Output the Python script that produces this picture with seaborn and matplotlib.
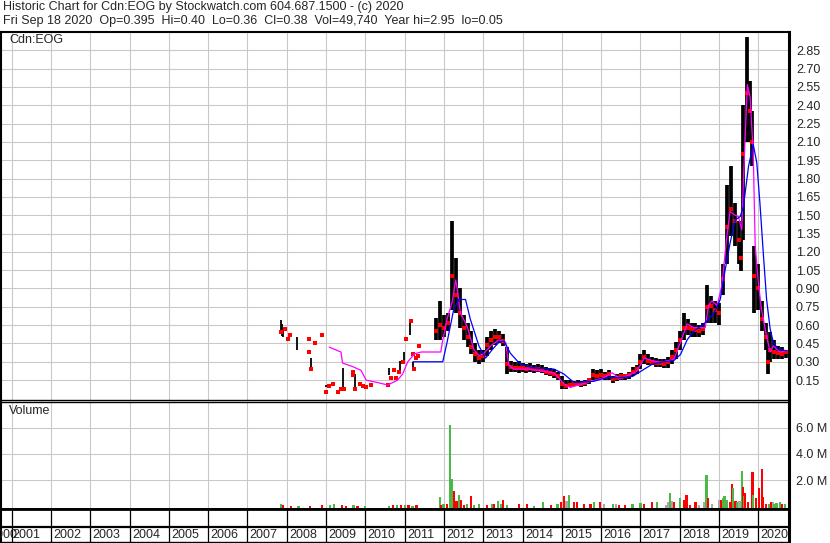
import matplotlib
matplotlib.use("Agg")
import matplotlib.pyplot as plt
import seaborn as sns
import numpy as np

# daily bars (condensed), decimal years / price in $
bar_year = [2011.8, 2011.9, 2012.0, 2012.1, 2012.2, 2012.3, 2012.4, 2012.5, 2012.6, 2012.7,
            2012.8, 2012.9, 2013.0, 2013.1, 2013.2, 2013.3, 2013.4, 2013.5, 2013.6, 2013.7,
            2013.8, 2013.9, 2014.0, 2014.1, 2014.2, 2014.3, 2014.4, 2014.5, 2014.6, 2014.7,
            2014.8, 2014.9, 2015.0, 2015.1, 2015.2, 2015.3, 2015.4, 2015.5, 2015.6, 2015.7,
            2015.8, 2015.9, 2016.0, 2016.1, 2016.2, 2016.3, 2016.4, 2016.5, 2016.6, 2016.7,
            2016.8, 2016.9, 2017.0, 2017.1, 2017.2, 2017.3, 2017.4, 2017.5, 2017.6, 2017.7,
            2017.8, 2017.9, 2018.0, 2018.1, 2018.2, 2018.3, 2018.4, 2018.5, 2018.6, 2018.7,
            2018.8, 2018.9, 2019.0, 2019.1, 2019.2, 2019.3, 2019.4, 2019.5, 2019.55, 2019.6,
            2019.7, 2019.8, 2019.85, 2019.9, 2020.0, 2020.1, 2020.2, 2020.25, 2020.3, 2020.4,
            2020.5, 2020.6, 2020.7]
bar_hi = [0.66, 0.80, 0.68, 0.70, 1.45, 1.15, 0.90, 0.68, 0.62, 0.55,
          0.45, 0.40, 0.40, 0.50, 0.55, 0.57, 0.55, 0.53, 0.42, 0.31,
          0.30, 0.31, 0.29, 0.28, 0.29, 0.27, 0.28, 0.27, 0.26, 0.25,
          0.24, 0.22, 0.18, 0.15, 0.15, 0.14, 0.15, 0.14, 0.15, 0.17,
          0.24, 0.23, 0.24, 0.22, 0.23, 0.18, 0.20, 0.21, 0.20, 0.22,
          0.26, 0.27, 0.36, 0.40, 0.36, 0.34, 0.33, 0.32, 0.32, 0.34,
          0.40, 0.46, 0.55, 0.70, 0.65, 0.62, 0.62, 0.60, 0.62, 0.93,
          0.84, 0.80, 0.78, 1.10, 1.75, 1.90, 1.60, 1.45, 1.30, 2.40,
          2.96, 2.60, 2.35, 1.25, 1.10, 0.80, 0.62, 0.45, 0.54, 0.48,
          0.43, 0.42, 0.40]
bar_lo = [0.48, 0.48, 0.50, 0.55, 0.72, 0.70, 0.58, 0.48, 0.42, 0.36,
          0.30, 0.28, 0.30, 0.35, 0.40, 0.44, 0.45, 0.43, 0.20, 0.22,
          0.22, 0.21, 0.22, 0.21, 0.22, 0.21, 0.22, 0.21, 0.19, 0.18,
          0.17, 0.15, 0.08, 0.08, 0.09, 0.10, 0.10, 0.09, 0.10, 0.12,
          0.15, 0.15, 0.16, 0.15, 0.15, 0.13, 0.14, 0.15, 0.15, 0.16,
          0.18, 0.20, 0.24, 0.28, 0.27, 0.27, 0.26, 0.26, 0.25, 0.25,
          0.28, 0.32, 0.40, 0.48, 0.52, 0.50, 0.50, 0.50, 0.52, 0.62,
          0.62, 0.62, 0.60, 0.85, 1.10, 1.33, 1.25, 1.10, 1.04, 1.30,
          2.10, 2.10, 1.90, 0.70, 0.72, 0.55, 0.40, 0.20, 0.30, 0.32,
          0.32, 0.32, 0.33]
bar_close = [0.55, 0.60, 0.58, 0.62, 1.00, 0.85, 0.70, 0.58, 0.50, 0.42,
             0.36, 0.33, 0.35, 0.44, 0.48, 0.50, 0.50, 0.47, 0.28, 0.26,
             0.25, 0.25, 0.25, 0.24, 0.25, 0.24, 0.24, 0.23, 0.22, 0.21,
             0.20, 0.18, 0.12, 0.10, 0.11, 0.12, 0.12, 0.12, 0.13, 0.15,
             0.19, 0.18, 0.19, 0.18, 0.20, 0.16, 0.17, 0.18, 0.18, 0.19,
             0.22, 0.24, 0.30, 0.34, 0.31, 0.30, 0.29, 0.29, 0.28, 0.30,
             0.34, 0.40, 0.48, 0.58, 0.58, 0.57, 0.56, 0.55, 0.57, 0.75,
             0.76, 0.72, 0.70, 0.98, 1.40, 1.55, 1.45, 1.30, 1.15, 2.00,
             2.50, 2.35, 2.10, 1.00, 0.90, 0.65, 0.50, 0.30, 0.40, 0.38,
             0.37, 0.36, 0.38]

# thinly traded years 2007-2011
early_year = [2007.85, 2007.88, 2007.91, 2008.27, 2008.61, 2009.01, 2009.44, 2009.74,
              2010.59, 2010.89, 2010.98, 2011.14, 2011.21]
early_hi = [0.64, 0.61, 0.57, 0.50, 0.33, 0.11, 0.25, 0.20, 0.25, 0.31, 0.38, 0.63, 0.30]
early_lo = [0.55, 0.51, 0.50, 0.40, 0.24, 0.09, 0.075, 0.08, 0.19, 0.23, 0.31, 0.52, 0.24]
dot_year = [2007.86, 2007.95, 2008.03, 2008.08, 2008.56, 2008.56, 2008.61, 2008.71, 2008.91,
            2008.99, 2009.07, 2009.17, 2009.30, 2009.38, 2009.46, 2009.68, 2009.69, 2009.74,
            2009.86, 2009.93, 2010.02, 2010.14, 2010.57, 2010.65, 2010.74, 2010.78, 2010.86,
            2010.95, 2011.04, 2011.16, 2011.21, 2011.23, 2011.28, 2011.33, 2011.37]
dot_price = [0.54, 0.57, 0.49, 0.52, 0.49, 0.38, 0.24, 0.45, 0.52,
             0.05, 0.10, 0.12, 0.05, 0.08, 0.075, 0.22, 0.19, 0.08,
             0.12, 0.105, 0.09, 0.11, 0.11, 0.17, 0.235, 0.17, 0.22,
             0.30, 0.49, 0.63, 0.36, 0.24, 0.33, 0.35, 0.43]

# moving averages (magenta = short, blue = long)
ma_s_year = [2009.08, 2009.38, 2009.42, 2009.68, 2009.89, 2010.02, 2010.31, 2010.57, 2010.82,
             2010.95, 2011.08, 2011.25, 2011.42, 2011.92, 2011.96, 2012.08, 2012.21, 2012.30,
             2012.34, 2012.42, 2012.59, 2012.76, 2012.89, 2013.02, 2013.19, 2013.40, 2013.57,
             2013.65, 2013.78, 2014.12, 2014.80, 2015.05, 2015.22, 2015.64, 2016.07, 2016.28,
             2016.49, 2016.70, 2016.90, 2017.10, 2017.30, 2017.51, 2017.85, 2018.02, 2018.19,
             2018.35, 2018.65, 2018.73, 2018.82, 2018.95, 2019.07, 2019.20, 2019.28, 2019.41,
             2019.49, 2019.58, 2019.62, 2019.72, 2019.79, 2019.87, 2019.92, 2020.00, 2020.08,
             2020.21, 2020.30, 2020.38, 2020.55, 2020.72]
ma_s = [0.42, 0.38, 0.29, 0.26, 0.23, 0.15, 0.13, 0.11, 0.15,
        0.20, 0.30, 0.365, 0.38, 0.38, 0.46, 0.65, 0.79, 0.97,
        0.89, 0.70, 0.59, 0.40, 0.35, 0.37, 0.43, 0.48, 0.46,
        0.27, 0.24, 0.24, 0.21, 0.12, 0.09, 0.13, 0.17, 0.21,
        0.16, 0.19, 0.22, 0.33, 0.31, 0.295, 0.32, 0.46, 0.61,
        0.58, 0.58, 0.76, 0.80, 0.76, 0.92, 1.33, 1.53, 1.50,
        1.49, 1.38, 1.79, 2.57, 2.47, 2.01, 1.25, 0.95, 0.73,
        0.51, 0.38, 0.43, 0.38, 0.39]
ma_l_year = [2011.21, 2011.97, 2012.08, 2012.25, 2012.38, 2012.55, 2012.67, 2012.89, 2013.06,
             2013.23, 2013.40, 2013.53, 2013.69, 2013.94, 2014.29, 2014.80, 2015.05, 2015.31,
             2015.81, 2016.15, 2016.49, 2016.80, 2017.10, 2017.30, 2017.51, 2017.85, 2018.02,
             2018.19, 2018.35, 2018.61, 2018.86, 2019.03, 2019.16, 2019.28, 2019.41, 2019.54,
             2019.62, 2019.75, 2019.87, 2019.96, 2020.04, 2020.13, 2020.21, 2020.30, 2020.38,
             2020.51, 2020.72]
ma_l = [0.30, 0.30, 0.46, 0.73, 0.81, 0.81, 0.65, 0.43, 0.33,
        0.40, 0.46, 0.47, 0.37, 0.28, 0.25, 0.24, 0.20, 0.13,
        0.14, 0.17, 0.17, 0.18, 0.24, 0.28, 0.295, 0.31, 0.36,
        0.48, 0.55, 0.61, 0.69, 0.81, 1.06, 1.27, 1.46, 1.49,
        1.57, 1.90, 2.08, 1.93, 1.60, 1.17, 0.81, 0.57, 0.46,
        0.40, 0.39]

# volume in millions, g = up, r = down, k = unchanged
vol_year = [2007.85, 2007.90, 2008.10, 2008.30, 2008.60, 2008.90, 2009.10, 2009.20, 2009.40,
            2009.50, 2009.70, 2009.80, 2010.00, 2010.60, 2010.70, 2010.80, 2010.90, 2011.00,
            2011.10, 2011.20, 2011.30, 2011.89, 2011.93, 2011.99, 2012.07, 2012.15, 2012.20,
            2012.25, 2012.32, 2012.38, 2012.43, 2012.50, 2012.58, 2012.68, 2012.76, 2012.89,
            2013.10, 2013.23, 2013.28, 2013.37, 2013.45, 2013.51, 2013.60, 2013.90, 2014.12,
            2014.30, 2014.53, 2014.72, 2014.89, 2014.97, 2015.06, 2015.12, 2015.18, 2015.30,
            2015.39, 2015.56, 2015.73, 2015.81, 2015.98, 2016.07, 2016.30, 2016.37, 2016.46,
            2016.60, 2016.80, 2017.00, 2017.08, 2017.30, 2017.43, 2017.64, 2017.70, 2017.75,
            2017.81, 2017.85, 2018.01, 2018.10, 2018.17, 2018.27, 2018.40, 2018.50, 2018.63,
            2018.68, 2018.72, 2018.83, 2018.99, 2019.06, 2019.10, 2019.14, 2019.20, 2019.27,
            2019.33, 2019.36, 2019.42, 2019.46, 2019.52, 2019.59, 2019.61, 2019.64, 2019.67,
            2019.74, 2019.85, 2019.87, 2019.93, 2020.02, 2020.09, 2020.12, 2020.19, 2020.28,
            2020.33, 2020.37, 2020.41, 2020.46, 2020.55, 2020.60, 2020.68]
vol_m = [0.15, 0.08, 0.05, 0.06, 0.05, 0.08, 0.10, 0.18, 0.08,
         0.06, 0.10, 0.06, 0.05, 0.05, 0.10, 0.08, 0.10, 0.08,
         0.10, 0.06, 0.07, 0.70, 0.10, 0.15, 0.20, 6.18, 2.10,
         1.20, 0.40, 0.85, 0.50, 0.10, 0.20, 0.80, 0.10, 0.15,
         0.10, 0.15, 0.20, 0.40, 0.20, 0.50, 0.10, 0.15, 0.20,
         0.05, 0.30, 0.10, 0.15, 0.30, 0.80, 0.40, 0.90, 0.30,
         0.30, 0.20, 0.20, 0.30, 0.30, 0.20, 0.15, 0.20, 0.10,
         0.10, 0.20, 0.25, 0.20, 0.30, 0.30, 0.10, 0.30, 1.05,
         0.40, 0.30, 0.60, 0.50, 0.87, 0.10, 0.30, 0.10, 0.30,
         2.40, 0.60, 0.15, 0.50, 0.50, 0.60, 0.80, 0.50, 0.30,
         1.70, 1.40, 0.40, 0.30, 0.40, 2.70, 1.50, 0.80, 1.00,
         0.30, 2.60, 0.90, 0.60, 1.40, 2.85, 0.70, 0.20, 0.20,
         0.35, 0.30, 0.20, 0.25, 0.30, 0.20, 0.20]
vol_col = ["g", "r", "r", "g", "r", "r", "g", "g", "r",
           "r", "g", "r", "g", "g", "r", "g", "r", "g",
           "r", "g", "r", "g", "r", "g", "r", "g", "g",
           "r", "r", "g", "r", "r", "g", "r", "g", "g",
           "r", "g", "r", "g", "g", "r", "g", "r", "r",
           "g", "g", "r", "g", "r", "r", "k", "g", "r",
           "r", "r", "r", "g", "r", "k", "g", "k", "r",
           "r", "g", "g", "r", "r", "g", "k", "k", "g",
           "k", "r", "g", "r", "r", "r", "r", "k", "k",
           "g", "r", "k", "k", "r", "g", "g", "g", "r",
           "r", "g", "r", "g", "k", "g", "r", "g", "r",
           "r", "r", "g", "r", "r", "r", "r", "r", "g",
           "r", "k", "g", "g", "g", "r", "g"]

price_ticks = [0.15, 0.30, 0.45, 0.60, 0.75, 0.90, 1.05, 1.20, 1.35, 1.50,
               1.65, 1.80, 1.95, 2.10, 2.25, 2.40, 2.55, 2.70, 2.85]
vol_ticks = [2, 4, 6]
vol_labels = ["2.0 M", "4.0 M", "6.0 M"]
year_labels = list(range(2000, 2021))

title1 = "Historic Chart for Cdn:EOG by Stockwatch.com 604.687.1500 - (c) 2020"
title2 = "Fri Sep 18 2020  Op=0.395  Hi=0.40  Lo=0.36  Cl=0.38  Vol=49,740  Year hi=2.95  lo=0.05"

sns.set_style("white")
plt.rcParams["font.family"] = ["Liberation Sans", "DejaVu Sans"]

W, H = 830, 543
fig = plt.figure(figsize=(W / 100, H / 100), dpi=100)
fig.patch.set_facecolor("white")


def box(x0, y0, x1, y1):
    return [x0 / W, 1 - y1 / H, (x1 - x0) / W, (y1 - y0) / H]


XL = (2000.73, 2020.78)
grid_kw = dict(color="#c8c8c8", lw=0.75, zorder=0)
bounds = year_labels[1:]
fs = 9.0

# price panel
ax = fig.add_axes(box(1, 32, 789, 400))
ax.set_xlim(*XL)
ax.set_ylim(-0.013, 3.0)
for b in bounds:
    ax.axvline(b, **grid_kw)
for t in price_ticks:
    ax.axhline(t, **grid_kw)
ax.vlines(early_year, early_lo, early_hi, colors="black", lw=1.3, zorder=2)
ax.vlines(bar_year, bar_lo, bar_hi, colors="black", lw=2.7, zorder=2)
sns.scatterplot(x=bar_year, y=bar_close, ax=ax, marker="s",
                s=6, color="red", linewidth=0, zorder=3)
sns.scatterplot(x=dot_year, y=dot_price, ax=ax, marker="s",
                s=9, color="red", linewidth=0, zorder=3)
sns.lineplot(x=ma_s_year, y=ma_s, ax=ax, color="#ff00ff", lw=0.9, estimator=None,
             sort=False, zorder=4)
sns.lineplot(x=ma_l_year, y=ma_l, ax=ax, color="#0000ff", lw=0.9, estimator=None,
             sort=False, zorder=4)
ax.set_yticks(price_ticks)
ax.set_yticklabels([f"{t:.2f}" for t in price_ticks])
ax.yaxis.tick_right()
ax.tick_params(axis="y", length=0, pad=5, labelsize=fs)
ax.set_xticks([])
ax.set_xlabel("")
ax.set_ylabel("")
for s in ax.spines.values():
    s.set_color("black")
    s.set_linewidth(1.0)
ax.spines["top"].set_linewidth(1.5)
ax.spines["left"].set_linewidth(1.5)
ax.spines["right"].set_linewidth(2.2)

# volume panel
axv = fig.add_axes(box(1, 402, 789, 509))
axv.set_xlim(*XL)
axv.set_ylim(-0.2, 7.95)
for b in bounds:
    axv.axvline(b, **grid_kw)
for t in vol_ticks:
    axv.axhline(t, **grid_kw)
cmap = {"g": "#4cb848", "r": "#ff0000", "k": "#a8a8a8"}
axv.bar(vol_year, np.array(vol_m) + 0.2, bottom=-0.2, width=0.055,
        color=[cmap[c] for c in vol_col], zorder=2, linewidth=0)
axv.set_yticks(vol_ticks)
axv.set_yticklabels(vol_labels)
axv.yaxis.tick_right()
axv.tick_params(axis="y", length=0, pad=5, labelsize=fs)
axv.set_xticks([])
for s in axv.spines.values():
    s.set_color("black")
    s.set_linewidth(1.0)
axv.spines["left"].set_linewidth(1.5)
axv.spines["right"].set_linewidth(2.2)
axv.spines["bottom"].set_linewidth(2.0)

# date strip
axs = fig.add_axes(box(1, 509, 789, 542))
axs.set_xlim(*XL)
axs.set_ylim(0, 1)
axs.set_xticks([])
axs.set_yticks([])
axs.axhline(15 / 33, color="black", lw=1.6)
for b in bounds:
    axs.axvline(b, color="black", lw=0.9)
for y in year_labels:
    if y == 2000:
        axs.text(2001.14, 0.22, str(y), ha="right", va="center", fontsize=fs, clip_on=False)
    else:
        axs.text(y + (0.02 if y == 2001 else 0.06), 0.22, str(y), ha="left",
                 va="center", fontsize=fs, clip_on=False)
for s in axs.spines.values():
    s.set_color("black")
    s.set_linewidth(1.0)
axs.spines["left"].set_linewidth(1.5)
axs.spines["right"].set_linewidth(2.2)
axs.spines["top"].set_linewidth(2.0)

fig.text(3 / W, 1 - 1 / H, title1, ha="left", va="top", fontsize=fs)
fig.text(3 / W, 1 - 15 / H, title2, ha="left", va="top", fontsize=fs)
fig.text(9 / W, 1 - 34 / H, "Cdn:EOG", ha="left", va="top", fontsize=fs)
fig.text(9 / W, 1 - 405 / H, "Volume", ha="left", va="top", fontsize=fs)

fig.savefig("out.png", dpi=100)
